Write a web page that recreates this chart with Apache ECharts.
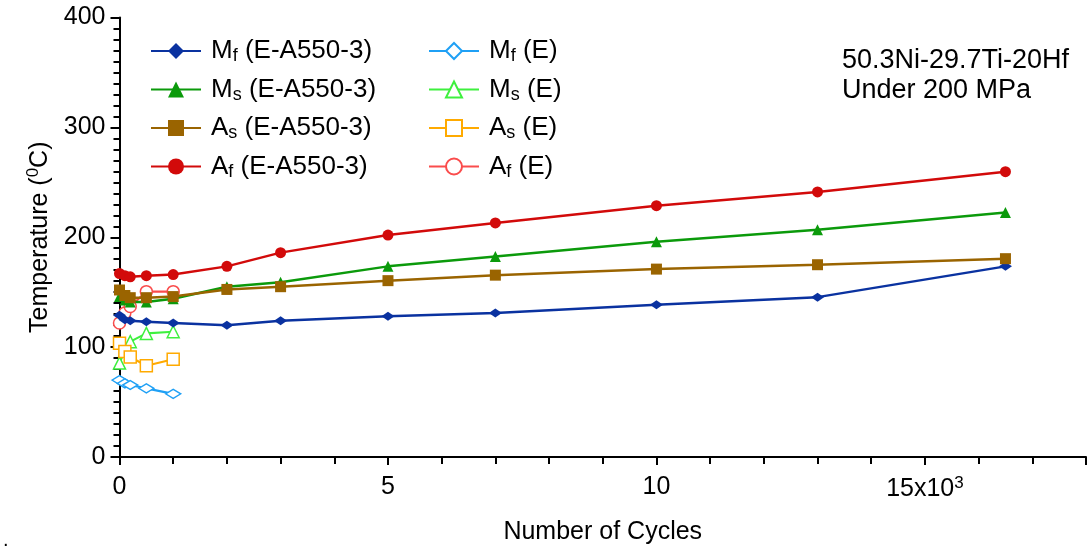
<!DOCTYPE html>
<html>
<head>
<meta charset="utf-8">
<title>Transformation temperatures vs. number of cycles</title>
<script src="https://cdn.jsdelivr.net/npm/echarts@6/dist/echarts.min.js"></script>
<style>
  html, body { margin: 0; padding: 0; background: #fff; }
  #chart { width: 1089px; height: 552px; }
</style>
</head>
<body>
<div id="chart"></div>
<script>
// Number of thermal cycles for each specimen set
const cyclesA = [0, 100, 200, 500, 1000, 2000, 3000, 5000, 7000, 10000, 13000, 16500];
const cyclesE = [0, 100, 200, 500, 1000];

// Transformation temperatures (°C), E-A550-3 condition
const mfA = [129, 125, 124, 123, 122, 120, 124, 128, 131, 138.5, 145.5, 173.5];
const msA = [146, 143, 141, 141, 144, 155, 159, 173.5, 182.5, 196, 206.8, 222.6];
const asA = [152, 147, 145, 145, 146, 152.5, 155, 160.5, 165.5, 171, 175, 180.5];
const afA = [167, 165, 164, 165, 166, 173.5, 186, 202, 213, 228.7, 241.2, 259.7];

// Transformation temperatures (°C), E condition
const mfE = [70, 67, 65.5, 62.5, 57.5];
const msE = [85.5, 97, 105, 112.5, 114];
const asE = [103.5, 96, 91, 83, 89];
const afE = [122, 131, 137, 150.5, 150.5];

// Axis tick labels
const xTickLabels = { 0: '0', 5000: '5', 10000: '10', 15000: '{n|15x10}{sup|3}' };
const yTickStep = 100;

const FONT = 'Liberation Sans, Arial, Helvetica, sans-serif';
const flatDiamond = 'path://M0,5L10,0L20,5L10,10Z';

function pairs(xs, ys) { return xs.map((x, i) => [x, ys[i]]); }

function solid(name, xs, ys, color, symbol, size) {
  return {
    name, type: 'line', data: pairs(xs, ys), clip: false,
    symbol, symbolSize: size, symbolKeepAspect: false,
    lineStyle: { color, width: 2.5 },
    itemStyle: { color },
    z: 3
  };
}
function open(name, xs, ys, color, symbol, size) {
  return {
    name, type: 'line', data: pairs(xs, ys), clip: false,
    symbol, symbolSize: size, symbolKeepAspect: false,
    lineStyle: { color, width: 2.2 },
    itemStyle: { color: '#fff', borderColor: color, borderWidth: 1.5 },
    z: 2
  };
}

const series = [
  solid('Mf (E-A550-3)', cyclesA, mfA, '#0a32a0', flatDiamond, [13, 9]),
  solid('Ms (E-A550-3)', cyclesA, msA, '#0b9a0b', 'triangle', 11),
  solid('As (E-A550-3)', cyclesA, asA, '#9a6400', 'rect', 11),
  solid('Af (E-A550-3)', cyclesA, afA, '#d20a0a', 'circle', 11),
  open('Mf (E)', cyclesE, mfE, '#1fa0f5', flatDiamond, [15, 9]),
  open('Ms (E)', cyclesE, msE, '#3ef03e', 'triangle', 12),
  open('As (E)', cyclesE, asE, '#ffaa00', 'rect', 12),
  open('Af (E)', cyclesE, afE, '#fa4c4c', 'circle', 12)
];

// "Mf (E)" -> M with subscript f
function legendLabel(name) {
  return '{n|' + name[0] + '}{sub|' + name[1] + '}{n|' + name.slice(2) + '}';
}
const legendRich = {
  n: { fontSize: 26, fontFamily: FONT, color: '#000', lineHeight: 28 },
  sub: { fontSize: 18, fontFamily: FONT, color: '#000', padding: [11, 0, 0, 0] }
};
function legend(names, left) {
  return {
    data: names, orient: 'vertical', left, top: 38, padding: 0,
    itemWidth: 50, itemHeight: 20, itemGap: 11,
    symbolKeepAspect: true,
    formatter: legendLabel,
    textStyle: { rich: legendRich, padding: [0, 0, 0, 5] },
    selectedMode: false
  };
}

const chart = echarts.init(document.getElementById('chart'), null, { renderer: 'canvas' });
chart.setOption({
  animation: false,
  backgroundColor: '#fff',
  grid: { left: 119.5, right: 0, top: 17.5, bottom: 95, containLabel: false },
  legend: [
    legend(series.slice(0, 4).map(s => s.name), 150),
    legend(series.slice(4).map(s => s.name), 428)
  ],
  xAxis: {
    type: 'value', min: 0, max: 18000, interval: 5000,
    name: 'Number of Cycles', nameLocation: 'middle', nameGap: 63,
    nameTextStyle: { fontSize: 25, fontFamily: FONT, color: '#000' },
    axisLine: { show: true, onZero: false, lineStyle: { color: '#000', width: 2 } },
    axisTick: { show: true, length: 8, lineStyle: { color: '#000', width: 2 } },
    minorTick: { show: true, splitNumber: 5, length: 7, lineStyle: { color: '#000', width: 2 } },
    splitLine: { show: false },
    axisLabel: {
      margin: 18, fontSize: 25, fontFamily: FONT, color: '#000',
      formatter: v => (xTickLabels[v] !== undefined ? xTickLabels[v] : ''),
      rich: {
        n: { fontSize: 25, fontFamily: FONT, color: '#000' },
        sup: { fontSize: 17, fontFamily: FONT, color: '#000', padding: [0, 0, 12, 0] }
      }
    }
  },
  yAxis: {
    type: 'value', min: 0, max: 400, interval: yTickStep,
    name: '{n|Temperature (}{sup|0}{n|C)}', nameLocation: 'middle', nameGap: 60,
    nameRotate: 90,
    nameTextStyle: {
      color: '#000',
      rich: {
        n: { fontSize: 25, fontFamily: FONT, color: '#000' },
        sup: { fontSize: 17, fontFamily: FONT, color: '#000', padding: [0, 0, 14, 0] }
      }
    },
    axisLine: { show: true, onZero: false, lineStyle: { color: '#000', width: 2 } },
    axisTick: { show: true, length: 9, lineStyle: { color: '#000', width: 2 } },
    minorTick: { show: true, splitNumber: 10, length: 6, lineStyle: { color: '#000', width: 2 } },
    splitLine: { show: false },
    axisLabel: { margin: 14, fontSize: 25, fontFamily: FONT, color: '#000' }
  },
  graphic: [
    { type: 'text', left: 842, top: 47, style: { text: '50.3Ni-29.7Ti-20Hf', font: '27px ' + FONT, fill: '#000' } },
    { type: 'text', left: 842, top: 77, style: { text: 'Under 200 MPa', font: '27px ' + FONT, fill: '#000' } },
    { type: 'text', left: 3, top: 530, style: { text: '.', font: '20px ' + FONT, fill: '#000' } }
  ],
  series
});
</script>
</body>
</html>
